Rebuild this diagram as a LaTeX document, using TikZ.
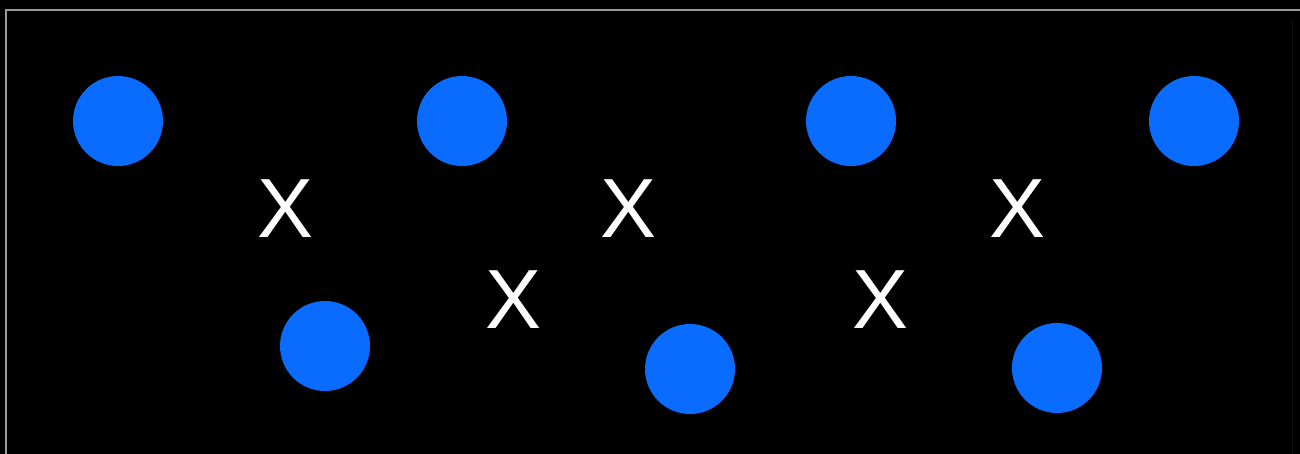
\documentclass[tikz,border=0pt]{standalone}
\usepackage{fontspec}
\setmainfont{Liberation Sans}
\definecolor{dotblue}{HTML}{0A6CFF}
\definecolor{framegray}{HTML}{9A9A9A}
\begin{document}
\begin{tikzpicture}[x=1pt,y=-1pt,
  dot/.style={circle,fill=dotblue,minimum size=90pt,inner sep=0pt},
  cross/.style={text=white,font=\fontsize{84}{84}\selectfont,inner sep=0pt}]
\fill[black] (0,0) rectangle (1300,454);
\useasboundingbox (0,0) rectangle (1300,454);
\coordinate (tl) at (6,10);
\coordinate (tr) at (1300,10);
\coordinate (bl) at (6,454);
\coordinate (rt) at (1292,20);
\coordinate (rb) at (1292,454);
\draw[framegray,line width=2.5pt] (bl) -- (tl) -- (tr);
\draw[black!80!white,line width=1pt,opacity=0.3] (rt) -- (rb);
\node[dot] (d1) at (118,121) {};
\node[dot] (d2) at (462,121) {};
\node[dot] (d3) at (851,121) {};
\node[dot] (d4) at (1194,121) {};
\node[dot] (d5) at (325,346) {};
\node[dot] (d6) at (690,369) {};
\node[dot] (d7) at (1057,368) {};
\node[cross] (x1) at (286,209) {X};
\node[cross] (x2) at (629,209) {X};
\node[cross] (x3) at (1017,209) {X};
\node[cross] (x4) at (514,300) {X};
\node[cross] (x5) at (881,300) {X};
\end{tikzpicture}
\end{document}
